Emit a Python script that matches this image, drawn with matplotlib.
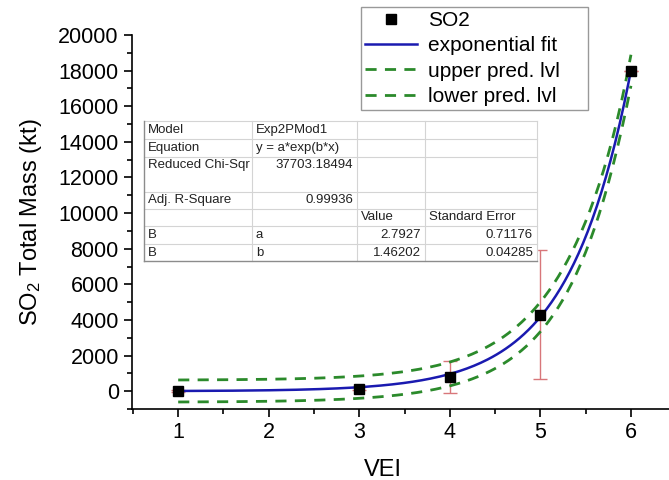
import numpy as np
import matplotlib.pyplot as plt
from matplotlib.ticker import MultipleLocator
from matplotlib.lines import Line2D

plt.rcParams['font.family'] = ['Liberation Sans', 'DejaVu Sans']
plt.rcParams['mathtext.default'] = 'regular'

# data
vei = np.array([1, 3, 4, 5, 6])
so2 = np.array([30, 150, 800, 4300, 18000])
so2_err = np.array([60, 60, 900, 3600, 0])

# fit parameters from the table
a, b = 2.7927, 1.46202
chi_sqr = 37703.18494
t_val = 3.182  # t(0.975, dof=3)

# curve and prediction band of the fit
xf = np.linspace(1, 6, 200)
yf = a * np.exp(b * xf)
J = np.column_stack([np.exp(b * vei), a * vei * np.exp(b * vei)])
cov = chi_sqr * np.linalg.inv(J.T @ J)
G = np.column_stack([np.exp(b * xf), a * xf * np.exp(b * xf)])
var_fit = np.einsum('ij,jk,ik->i', G, cov, G)
half = t_val * np.sqrt(chi_sqr + var_fit)

fig = plt.figure(figsize=(6.69, 4.8), dpi=100)
ax = fig.add_axes([132 / 669, 71 / 480, 537 / 669, 374 / 480])

ax.errorbar(vei, so2, yerr=so2_err, fmt='none', ecolor='#d8767a',
            elinewidth=1, capsize=5, capthick=1, zorder=2)
green = '#2b8a2b'
l_up, = ax.plot(xf, yf + half, color=green, lw=2, dashes=(4, 3), zorder=3)
l_lo, = ax.plot(xf, yf - half, color=green, lw=2, dashes=(4, 3), zorder=3)
l_fit, = ax.plot(xf, yf, color='#1a1ab0', lw=1.8, zorder=4)
pts, = ax.plot(vei, so2, 's', color='black', ms=6.5, zorder=5)

ax.set_xlim(0.49, 6.42)
ax.set_ylim(-1000, 20000)
ax.spines['top'].set_visible(False)
ax.spines['right'].set_visible(False)
for s in ['left', 'bottom']:
    ax.spines[s].set_linewidth(1.2)
ax.xaxis.set_major_locator(MultipleLocator(1))
ax.xaxis.set_minor_locator(MultipleLocator(0.5))
ax.yaxis.set_major_locator(MultipleLocator(2000))
ax.yaxis.set_minor_locator(MultipleLocator(1000))
ax.tick_params(which='major', direction='out', length=6, width=1.2, labelsize=15.5)
ax.tick_params(which='minor', direction='out', length=3.5, width=1.2)

ax.set_xlabel('VEI', fontsize=17)
ax.xaxis.set_label_coords(0.467, -0.135)
ax.set_ylabel('SO$_2$ Total Mass (kt)', fontsize=17, labelpad=10)

fig.legend([pts, l_fit, l_up, l_lo],
           ['SO2', 'exponential fit', 'upper pred. lvl', 'lower pred. lvl'],
           loc='upper left', mode='expand',
           bbox_to_anchor=(361 / 669, 1 - 113 / 480, 227 / 669, 106 / 480),
           fontsize=15, frameon=True, fancybox=False, edgecolor='#808080',
           handlelength=2.5, handletextpad=0.5, borderpad=0.2,
           labelspacing=0.3, borderaxespad=0)

# fit results table, drawn in pixel coordinates
tab = fig.add_axes([0, 0, 1, 1], zorder=10)
tab.set_xlim(0, 669)
tab.set_ylim(480, 0)
tab.axis('off')
tab.patch.set_alpha(0)

cols = [144, 252, 357, 425, 537]
rows = [121, 139, 157, 192, 209, 226, 244, 261]
tab.fill_between([cols[0], cols[-1]], rows[0], rows[-1], color='white', zorder=1)
for yy in rows[:-1]:
    tab.add_line(Line2D([cols[0], cols[-1]], [yy, yy], color='#d4d4d4', lw=0.8, zorder=2))
for xx in cols[1:]:
    tab.add_line(Line2D([xx, xx], [rows[0], rows[-1]], color='#d4d4d4', lw=0.8, zorder=2))
tab.add_line(Line2D([cols[0], cols[0]], [rows[0], rows[-1]], color='#8c8c8c', lw=1, zorder=3))
tab.add_line(Line2D([cols[0], cols[-1]], [rows[-1], rows[-1]], color='#8c8c8c', lw=1, zorder=3))

fs = 9.5
tc = '#222222'
labels_left = ['Model', 'Equation', 'Reduced Chi-Sqr', 'Adj. R-Square', '', 'B', 'B']
text_y = [130, 148, 165, 200, 217.5, 235, 252.5]
for lab, yy in zip(labels_left, text_y):
    tab.text(148, yy, lab, fontsize=fs, color=tc, va='center', ha='left')
tab.text(256, 130, 'Exp2PMod1', fontsize=fs, color=tc, va='center')
tab.text(256, 148, 'y = a*exp(b*x)', fontsize=fs, color=tc, va='center')
tab.text(353, 165, '37703.18494', fontsize=fs, color=tc, va='center', ha='right')
tab.text(353, 200, '0.99936', fontsize=fs, color=tc, va='center', ha='right')
tab.text(361, 217.5, 'Value', fontsize=fs, color=tc, va='center')
tab.text(429, 217.5, 'Standard Error', fontsize=fs, color=tc, va='center')
tab.text(256, 235, 'a', fontsize=fs, color=tc, va='center')
tab.text(256, 252.5, 'b', fontsize=fs, color=tc, va='center')
tab.text(421, 235, '2.7927', fontsize=fs, color=tc, va='center', ha='right')
tab.text(421, 252.5, '1.46202', fontsize=fs, color=tc, va='center', ha='right')
tab.text(533, 235, '0.71176', fontsize=fs, color=tc, va='center', ha='right')
tab.text(533, 252.5, '0.04285', fontsize=fs, color=tc, va='center', ha='right')

fig.savefig('out.png', dpi=100)
